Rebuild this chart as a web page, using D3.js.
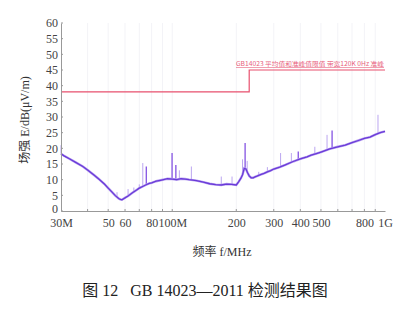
<html>
<head>
<meta charset="utf-8">
<script src="https://d3js.org/d3.v7.min.js"></script>
<style>
	body { margin:0; background:#fff; }
	svg { display:block; }
	.tick text { font-family: "Liberation Serif", "DejaVu Serif", serif; }
</style>
</head>
<body>
<svg width=409 height=310></svg>
<script>

// measured trace (frequency in MHz, level in dB(uV/m))
var traceFreq  = [30,31,33,35,38,40,43,45,48,50,52,54,56,57,58,60,62,65,68,70,73,75,78,80,84,88,92,95,100,105,110,115,120,130,140,150,160,170,180,190,200,205,210,214,218,222,226,230,235,240,245,250,260,270,280,290,300,320,340,370,400,430,450,480,500,550,600,650,700,750,800,850,900,950,1000];
var traceLevel = [18.3,17.6,16.6,15.6,14.2,13.1,11.4,10.3,8.6,7.3,6.1,4.9,4.0,3.7,3.6,4.2,4.8,5.8,6.7,7.3,7.9,8.3,8.8,9.0,9.5,9.8,10.1,10.3,10.2,10.0,10.3,10.2,10.0,9.7,9.2,8.7,8.4,8.3,8.6,8.5,8.3,9.3,10.4,11.6,13.6,13.4,12.2,11.2,10.6,10.6,10.9,11.1,11.6,12.0,12.5,12.9,13.4,14.0,14.7,15.8,16.6,17.3,17.8,18.4,18.8,19.8,20.5,21.0,21.8,22.5,23.2,23.6,24.4,25.0,25.4];

// narrow peaks on top of the trace
var peakFreq  = [30,55,62,66,70,72.7,75.5,99.8,104,108,123,170,191,214,220,225,255,280,323,363,391,468,534,564,927];
var peakLevel = [21,6,7,7.5,8.5,15.3,14.2,18.5,14.7,13,14.2,11,11,16.5,21.7,16,12.5,14,18.5,18.5,19,20.5,24.3,25.7,30.7];
var peakDark  = [0,0,0,0,0,0,1,1,1,0,0,0,0,0,1,0,0,0,0,0,1,0,0,1,0];

// GB14023 limit
var limitFreq  = [30,230,230,1000];
var limitLevel = [38,38,45,45];
var limitLabel = "GB14023 平均值和准峰值限值 带宽120K 0Hz 准峰";

var xTickVals   = [30,50,60,80,100,200,300,400,500,800,1000];
var xTickLabels = ["30M","50","60","80","100M","200","300","400","500","800","1G"];
var xMinor = [40,50,60,70,80,90,100,200,300,400,500,600,700,800,900];
var yTicks = d3.range(0,61,5);

var svg = d3.select("svg");
var pL = 61, pR = 385, pT = 23, pB = 211;

var x = d3.scaleLog().domain([30,1000]).range([pL,pR]);
var y = d3.scaleLinear().domain([0,60]).range([pB,pT]);

//faint grid
svg.append("g").selectAll("line").data(xMinor).enter().append("line")
	.attr("x1", d=>x(d)).attr("x2", d=>x(d))
	.attr("y1", pT).attr("y2", pB)
	.attr("stroke", "#f3f3f7").attr("stroke-width", 1);

//limit line
var line = d3.line().x((d,i)=>x(limitFreq[i])).y((d,i)=>y(limitLevel[i]));
svg.append("path").datum(limitLevel)
	.attr("d", line).attr("fill","none")
	.attr("stroke","#e8506e").attr("stroke-width",1.2);

svg.append("text")
	.attr("x", 236).attr("y", 66)
	.attr("textLength", 148).attr("lengthAdjust","spacingAndGlyphs")
	.attr("font-family","Noto Sans CJK SC").attr("font-size", 6)
	.attr("fill","#e8607c").attr("text-decoration","underline")
	.text(limitLabel);

//peaks
var base = d3.scaleLog().domain(traceFreq).range(traceLevel);
svg.append("g").selectAll("line").data(peakFreq).enter().append("line")
	.attr("x1", d=>x(d)).attr("x2", d=>x(d))
	.attr("y1", (d,i)=>y(peakLevel[i]))
	.attr("y2", d=>y(base(d)))
	.attr("stroke", (d,i)=>peakDark[i] ? "#7a45e0" : "#bba6f0")
	.attr("stroke-width", (d,i)=>peakDark[i] ? 1.2 : 1);

//trace
var tline = d3.line().x((d,i)=>x(traceFreq[i])).y((d,i)=>y(traceLevel[i]));
svg.append("path").datum(traceLevel)
	.attr("d", tline).attr("fill","none")
	.attr("stroke","#b8a2f0").attr("stroke-width",2.4);
svg.append("path").datum(traceLevel)
	.attr("d", tline).attr("fill","none")
	.attr("stroke","#6a3ad8").attr("stroke-width",1.3);

//axes
var yaxis = svg.append("g").attr("transform","translate("+pL+",0)")
	.call(d3.axisLeft(y).tickValues(yTicks).tickSize(0).tickPadding(3));
yaxis.selectAll("text").attr("font-size",12).attr("fill","#444");
yaxis.select(".domain").attr("stroke","#999");
yaxis.selectAll(".tick").filter(d=>d==0).select("text").attr("dy","0.15em");
svg.append("g").selectAll("line").data(yTicks).enter().append("line")
	.attr("x1",pL).attr("x2",pL+2).attr("y1",d=>y(d)).attr("y2",d=>y(d))
	.attr("stroke","#999");

var xaxis = svg.append("g").attr("transform","translate(0,"+pB+")")
	.call(d3.axisBottom(x).tickValues(xTickVals).tickSize(0).tickPadding(7)
		.tickFormat((d,i)=>xTickLabels[i]));
xaxis.selectAll("text").attr("font-size",12).attr("fill","#444");
xaxis.select(".domain").attr("stroke","#999");
svg.append("g").selectAll("line").data(xMinor).enter().append("line")
	.attr("x1",d=>x(d)).attr("x2",d=>x(d)).attr("y1",pB).attr("y2",pB-2)
	.attr("stroke","#999");

//titles
svg.append("text")
	.attr("transform","translate(29,120) rotate(-90)")
	.attr("text-anchor","middle")
	.attr("font-size",12).attr("fill","#333")
	.attr("font-family","'Liberation Serif', 'Noto Sans CJK SC'")
	.text("场强 E/dB(μV/m)");

svg.append("text")
	.attr("x",222).attr("y",256)
	.attr("text-anchor","middle")
	.attr("font-size",12).attr("fill","#333")
	.attr("font-family","'Liberation Serif', 'Noto Sans CJK SC'")
	.text("频率 f/MHz");

svg.append("text")
	.attr("x",205).attr("y",296)
	.attr("text-anchor","middle")
	.attr("font-size",16).attr("fill","#222")
	.attr("font-family","'Liberation Serif', 'Noto Sans CJK SC'")
	.attr("xml:space","preserve")
	.text("图 12   GB 14023—2011 检测结果图");

</script>
</body>
</html>
